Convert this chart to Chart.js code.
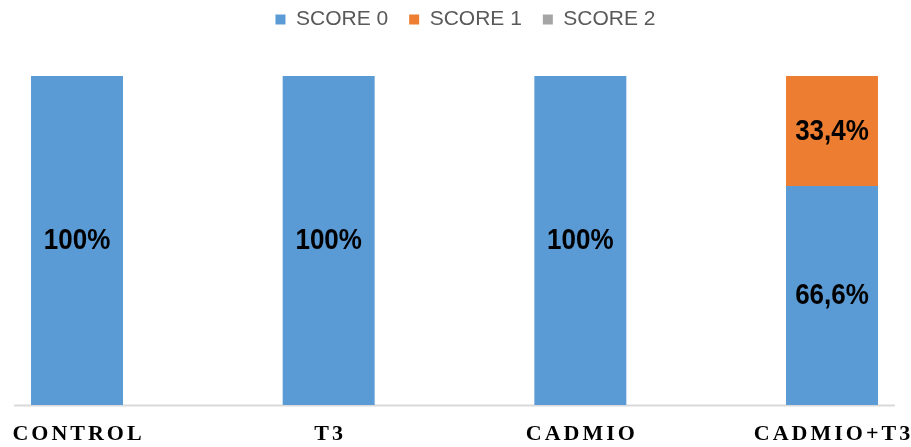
<!DOCTYPE html>
<html>
<head>
<meta charset="utf-8">
<script src="https://cdn.jsdelivr.net/npm/chart.js@4.4.0/dist/chart.umd.min.js"></script>
<style>
  html, body { margin: 0; padding: 0; background: #fff; }
  #wrap { width: 911px; height: 447px; position: relative; }
</style>
</head>
<body>
<div id="wrap"><canvas id="c"></canvas></div>
<script>
// Groups along the x axis
const categories = ['CONTROL', 'T3', 'CADMIO', 'CADMIO+T3'];
// Share of each score per group (%)
const score0 = [100, 100, 100, 66.6];
const score1 = [0, 0, 0, 33.4];
const score2 = [0, 0, 0, 0];
const seriesNames = ['SCORE 0', 'SCORE 1', 'SCORE 2'];
const seriesColors = ['#5B9BD5', '#ED7D31', '#A5A5A5'];

function pct(v) {
  return Number.isInteger(v) ? v + '%' : v.toFixed(1).replace('.', ',') + '%';
}

// Empty layout box that keeps some room between the legend and the bars
const legendGap = {
  id: 'legendGap',
  beforeInit(chart) {
    Chart.layouts.addBox(chart, {
      position: 'top', weight: 0, fullSize: true, options: {},
      left: 0, top: 0, right: 0, bottom: 0, width: 0, height: 0,
      isHorizontal() { return true; },
      getPadding() { return { top: 0, left: 0, right: 0, bottom: 0 }; },
      update(maxWidth) { this.width = maxWidth; this.height = 36; },
      draw() {}
    });
  }
};

// Nudge the legend row a little to the right of the plot centre
const legendShift = {
  id: 'legendShift',
  afterLayout(chart) {
    const lg = chart.legend;
    if (lg) { lg.left += 11; lg.right += 11; }
  }
};

// Light base line under the bars, running a bit past the outer bars
const baseLine = {
  id: 'baseLine',
  beforeDatasetsDraw(chart) {
    const { ctx, scales: { x, y } } = chart;
    const step = x.getPixelForValue(1) - x.getPixelForValue(0);
    const yb = Math.round(y.getPixelForValue(0)) + 0.5;
    ctx.save();
    ctx.strokeStyle = '#D9D9D9';
    ctx.lineWidth = 2;
    ctx.beginPath();
    ctx.moveTo(x.getPixelForValue(0) - step * 0.25, yb);
    ctx.lineTo(x.getPixelForValue(categories.length - 1) + step * 0.25, yb);
    ctx.stroke();
    ctx.restore();
  }
};

// Value labels centred in each bar segment (slightly tall lettering)
const segmentLabels = {
  id: 'segmentLabels',
  afterDatasetsDraw(chart) {
    const { ctx } = chart;
    const sy = 1.1;
    ctx.save();
    ctx.font = 'bold 26px "Liberation Sans", Arial, sans-serif';
    ctx.fillStyle = '#000';
    ctx.textAlign = 'center';
    ctx.textBaseline = 'middle';
    chart.data.datasets.forEach((ds, di) => {
      const meta = chart.getDatasetMeta(di);
      meta.data.forEach((bar, i) => {
        const v = ds.data[i];
        if (!v) return;
        const cy = (bar.y + bar.base) / 2 + 1;
        ctx.save();
        ctx.translate(bar.x, cy);
        ctx.scale(1, sy);
        ctx.fillText(pct(v), 0, 0);
        ctx.restore();
      });
    });
    ctx.restore();
  }
};

// Spaced serif category names under the base line
const categoryLabels = {
  id: 'categoryLabels',
  afterDraw(chart) {
    const { ctx, scales: { x, y } } = chart;
    const spacing = 3;
    ctx.save();
    ctx.font = 'bold 22px "Liberation Serif", "Times New Roman", serif';
    ctx.letterSpacing = spacing + 'px';
    ctx.fillStyle = '#000';
    ctx.textAlign = 'center';
    ctx.textBaseline = 'middle';
    const yl = y.getPixelForValue(0) + 29;
    categories.forEach((c, i) => {
      ctx.fillText(c, x.getPixelForValue(i) + spacing / 2, yl);
    });
    ctx.restore();
  }
};

const datasetValues = [score0, score1, score2];

new Chart(document.getElementById('c'), {
  type: 'bar',
  data: {
    labels: categories,
    datasets: seriesNames.map((name, i) => ({
      label: name,
      data: datasetValues[i],
      backgroundColor: seriesColors[i],
      borderWidth: 0,
      categoryPercentage: 0.3655,
      barPercentage: 1,
      clip: false
    }))
  },
  options: {
    responsive: true,
    maintainAspectRatio: false,
    animation: false,
    devicePixelRatio: 1,
    layout: { padding: { top: -12, left: 77, right: 79, bottom: 42 } },
    plugins: {
      legend: {
        position: 'top',
        labels: {
          boxWidth: 10,
          boxHeight: 10,
          padding: 21,
          color: '#595959',
          font: { family: '"Liberation Sans", Arial, sans-serif', size: 21 }
        }
      },
      tooltip: { enabled: false }
    },
    scales: {
      x: { stacked: true, offset: false, display: false },
      y: { stacked: true, min: 0, max: 100, display: false }
    }
  },
  plugins: [legendGap, legendShift, baseLine, segmentLabels, categoryLabels]
});
</script>
</body>
</html>
